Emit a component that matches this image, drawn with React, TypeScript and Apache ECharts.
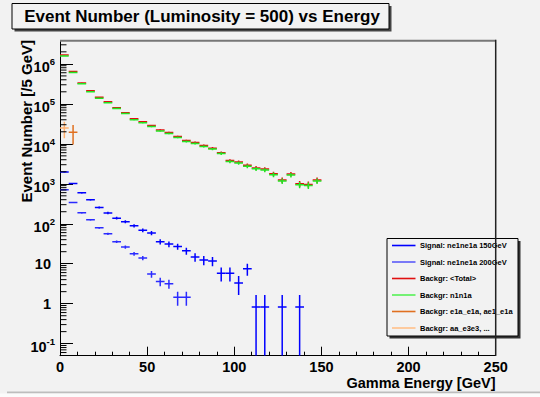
import React, { useEffect, useRef } from "react";
import * as echarts from "echarts";

// ---- data (bins of 5 GeV) ----
const binLowEdges = [0, 5, 10, 15, 20, 25, 30, 35, 40, 45, 50, 55, 60, 65, 70, 75, 80, 85, 90, 95, 100, 105, 110, 115, 120, 125, 130, 135, 140, 145];
const BIN_WIDTH = 5;

const totalBackground = [1.67e6, 6.4e5, 3.34e5, 2.12e5, 1.46e5, 1.13e5, 8.0e4, 6.0e4, 4.22e4, 3.55e4, 2.86e4, 2.22e4, 1.93e4, 1.52e4, 1.21e4, 1.08e4, 9.1e3, 7.8e3, 6.0e3, 3.8e3, 3.5e3, 2.9e3, 2.5e3, 2.33e3, 1.78e3, 1.24e3, 1.75e3, 1.0e3, 965, 1.24e3];
const totalBackgroundErr = [7080, 4380, 3170, 2520, 2090, 1840, 1550, 1340, 1125, 1030, 925, 815, 760, 675, 600, 570, 520, 485, 425, 338, 324, 295, 274, 264, 231, 193, 229, 173, 170, 193];
const n1n1a = [1.58e6, 6.06e5, 3.16e5, 2.0e5, 1.38e5, 1.07e5, 7.6e4, 5.7e4, 4.0e4, 3.35e4, 2.7e4, 2.1e4, 1.82e4, 1.44e4, 1.14e4, 1.02e4, 8.6e3, 7.4e3, 5.7e3, 3.6e3, 3.3e3, 2.75e3, 2.37e3, 2.2e3, 1.68e3, 1.17e3, 1.65e3, 945, 910, 1.17e3];
const n1n1aErr = [6885, 4264, 3079, 2449, 2035, 1792, 1510, 1308, 1095, 1002, 900, 794, 739, 657, 585, 553, 508, 471, 414, 329, 315, 287, 267, 257, 224, 187, 222, 168, 165, 187];
const e1aE1a = [0, 1.96e4];
const e1aE1aErr = [0, 1.0e4];
const aaE3e3 = [2.47e4];
const aaE3e3Err = [1.1e4];
const signal150 = [1960, 1020, 596, 398, 256, 186, 138, 112, 89, 69, 58.6, 35.5, 31, 27, 21, 14.7, 12.4, 11.7, 5.8, 5.8, 3.3, 7.5, 0.83, 0.83, 0, 0.83, 0, 0.83];
const signal150Err = [40.3, 29.1, 22.2, 18.2, 14.6, 12.4, 10.7, 9.6, 8.6, 7.6, 7.0, 5.4, 5.1, 4.7, 4.2, 3.5, 3.2, 3.1, 2.2, 2.2, 1.66, 2.5, 0.83, 0.83, 0, 0.83, 0, 0.83];
const signal200 = [707, 340, 188, 126, 79, 56, 35.5, 26.1, 17.8, 13.9, 5.5, 3.6, 3.16, 1.44, 1.44];
const signal200Err = [12.2, 8.45, 6.3, 5.1, 4.1, 3.4, 2.7, 2.3, 1.9, 1.7, 1.07, 0.87, 0.81, 0.55, 0.55];

const legendNames = [
  "Signal: ne1ne1a 150GeV",
  "Signal: ne1ne1a 200GeV",
  "Backgr: <Total>",
  "Backgr: n1n1a",
  "Backgr: e1a_e1a, ae1_e1a",
  "Backgr: aa_e3e3, ...",
];
const legendColors = ["#0000ff", "#5a5af8", "#e01010", "#55f055", "#e07020", "#ffbf88"];

const X_MIN = 0;
const X_MAX = 250;
const Y_MIN = 0.05;
const Y_MAX = 3.8e6;

const FONT = "'Liberation Sans', Arial, Helvetica, sans-serif";
const BG = "#f2f2f2";

function errSeries(name: string, values: number[], errors: number[], color: string) {
  const data: number[][] = [];
  values.forEach((v, i) => {
    if (v > 0) data.push([binLowEdges[i], v, errors[i]]);
  });
  return {
    type: "custom",
    name,
    data,
    clip: true,
    silent: true,
    encode: { x: 0, y: 1 },
    renderItem: (params: any, api: any) => {
      const x0 = api.value(0);
      const v = api.value(1);
      const e = api.value(2);
      const pl = api.coord([x0, v]);
      const pr = api.coord([x0 + BIN_WIDTH, v]);
      const hi = v + e;
      const lo = Math.max(v - e, Y_MIN);
      const pt = api.coord([x0 + BIN_WIDTH / 2, hi]);
      const pb = api.coord([x0 + BIN_WIDTH / 2, lo]);
      return {
        type: "group",
        children: [
          { type: "line", shape: { x1: pl[0], y1: pl[1], x2: pr[0], y2: pr[1] }, style: { stroke: color, lineWidth: 1.5 } },
          { type: "line", shape: { x1: pt[0], y1: pt[1], x2: pb[0], y2: pb[1] }, style: { stroke: color, lineWidth: 1.5 } },
        ],
      };
    },
  };
}

export default function App() {
  const ref = useRef<HTMLDivElement>(null);
  useEffect(() => {
    if (!ref.current) return;
    const chart = echarts.init(ref.current, undefined, { renderer: "svg" });

    const yMinorTicks: number[][] = [];
    for (let e = -2; e <= 6; e++) {
      for (let m = 2; m <= 9; m++) {
        const v = m * Math.pow(10, e);
        if (v > Y_MIN && v < Y_MAX) yMinorTicks.push([X_MIN, v]);
      }
    }

    const gl = 60, gt = 40.7, gw = 435.7, gh = 315;

    const legendX = 387, legendY = 238.5, legendW = 131, legendH = 97.5;
    const legendChildren: any[] = [
      { type: "rect", shape: { x: legendX + 2.5, y: legendY + 2.5, width: legendW, height: legendH }, style: { fill: "#333" } },
      { type: "rect", shape: { x: legendX, y: legendY, width: legendW, height: legendH }, style: { fill: BG, stroke: "#000", lineWidth: 1 } },
    ];
    legendNames.forEach((n, i) => {
      const y = 245.5 + i * 16.5;
      legendChildren.push({ type: "line", shape: { x1: 392, y1: y, x2: 415.5, y2: y }, style: { stroke: legendColors[i], lineWidth: 1.6 } });
      legendChildren.push({
        type: "text",
        x: 420,
        y: y,
        style: { text: n, fill: "#000", font: `bold 7.5px ${FONT}`, textVerticalAlign: "middle", textAlign: "left" },
      });
    });

    const option: any = {
      animation: false,
      backgroundColor: BG,
      grid: { left: gl, top: gt, width: gw, height: gh, containLabel: false },
      xAxis: {
        type: "value",
        min: X_MIN,
        max: X_MAX,
        interval: 50,
        axisLine: { lineStyle: { color: "#000", width: 1 } },
        axisTick: { inside: true, length: 9, lineStyle: { color: "#000" } },
        minorTick: { show: true, splitNumber: 5, length: 4, lineStyle: { color: "#000" } },
        splitLine: { show: false },
        axisLabel: { fontFamily: FONT, fontWeight: "bold", fontSize: 14.5, lineHeight: 12, color: "#000", margin: 5 },
      },
      yAxis: {
        type: "log",
        logBase: 10,
        min: Y_MIN,
        max: Y_MAX,
        axisLine: { lineStyle: { color: "#000", width: 1 } },
        axisTick: { inside: true, length: 13, lineStyle: { color: "#000" } },
        splitLine: { show: false },
        axisLabel: {
          showMinLabel: false,
          showMaxLabel: false,
          margin: 5,
          formatter: (v: number) => {
            const l = Math.log10(v);
            const e = Math.round(l);
            if (Math.abs(l - e) > 0.01) return "";
            if (e === 0) return "{p|1}";
            if (e === 1) return "{p|10}";
            return "{b|10}{s|" + e + "}";
          },
          rich: {
            b: { fontFamily: FONT, fontWeight: "bold", fontSize: 14.5, color: "#000", lineHeight: 22, verticalAlign: "bottom" },
            s: { fontFamily: FONT, fontWeight: "bold", fontSize: 9.5, color: "#000", verticalAlign: "middle", padding: [0, 0, 4, 0] },
            p: { fontFamily: FONT, fontWeight: "bold", fontSize: 14.5, color: "#000", padding: [0, 4, 0, 0] },
          },
        },
      },
      series: [
        errSeries("Backgr: <Total>", totalBackground, totalBackgroundErr, legendColors[2]),
        errSeries("Backgr: n1n1a", n1n1a, n1n1aErr, "#22e622"),
        errSeries("Backgr: e1a_e1a, ae1_e1a", e1aE1a, e1aE1aErr, legendColors[4]),
        errSeries("Backgr: aa_e3e3, ...", aaE3e3, aaE3e3Err, "#ffb070"),
        errSeries("Signal: ne1ne1a 200GeV", signal200, signal200Err, "#2b2bff"),
        errSeries("Signal: ne1ne1a 150GeV", signal150, signal150Err, legendColors[0]),
        {
          type: "custom",
          name: "yMinorTicks",
          data: yMinorTicks,
          silent: true,
          clip: false,
          encode: { x: 0, y: 1 },
          renderItem: (params: any, api: any) => {
            const p = api.coord([api.value(0), api.value(1)]);
            return { type: "line", shape: { x1: p[0], y1: p[1], x2: p[0] + 6.5, y2: p[1] }, style: { stroke: "#000", lineWidth: 1 } };
          },
        },
      ],
      graphic: [
        // frame top and right
        { type: "line", z: 50, shape: { x1: gl, y1: gt, x2: gl + gw, y2: gt }, style: { stroke: "#777", lineWidth: 2 } },
        { type: "line", z: 50, shape: { x1: gl + gw, y1: gt - 1, x2: gl + gw, y2: gt + gh }, style: { stroke: "#222", lineWidth: 1.5 } },
        // title box
        { type: "rect", z: 60, shape: { x: 14.5, y: 6, width: 377, height: 25.5 }, style: { fill: "#444" } },
        { type: "rect", z: 61, shape: { x: 12, y: 3.5, width: 377, height: 25.5 }, style: { fill: BG, stroke: "#000", lineWidth: 1 } },
        {
          type: "text",
          z: 62,
          x: 202,
          y: 16.5,
          style: { text: "Event Number (Luminosity = 500) vs Energy", fill: "#000", font: `bold 17px ${FONT}`, textAlign: "center", textVerticalAlign: "middle" },
        },
        // axis titles
        {
          type: "text",
          z: 62,
          x: 26.5,
          y: 40,
          rotation: Math.PI / 2,
          style: { text: "Event Number [/5 GeV]", fill: "#000", font: `bold 15px ${FONT}`, textAlign: "right", textVerticalAlign: "middle" },
        },
        {
          type: "text",
          z: 62,
          x: 495.5,
          y: 383,
          style: { text: "Gamma Energy [GeV]", fill: "#000", font: `bold 14.5px ${FONT}`, lineHeight: 12, textAlign: "right", textVerticalAlign: "middle" },
        },
        // legend
        { type: "group", z: 70, children: legendChildren },
        // canvas bottom border
        { type: "line", z: 40, shape: { x1: 7, y1: 392.5, x2: 540, y2: 392.5 }, style: { stroke: "#bdbdbd", lineWidth: 2 } },
        { type: "rect", z: 40, shape: { x: 0, y: 393.5, width: 540, height: 4 }, style: { fill: "#fbfbfb" } },
      ],
    };
    chart.setOption(option);
    return () => chart.dispose();
  }, []);
  return (
    <div style={{ position: "absolute", left: 0, top: 0, width: 540, height: 397, background: BG }}>
      <div ref={ref} style={{ width: 540, height: 397 }} />
    </div>
  );
}
